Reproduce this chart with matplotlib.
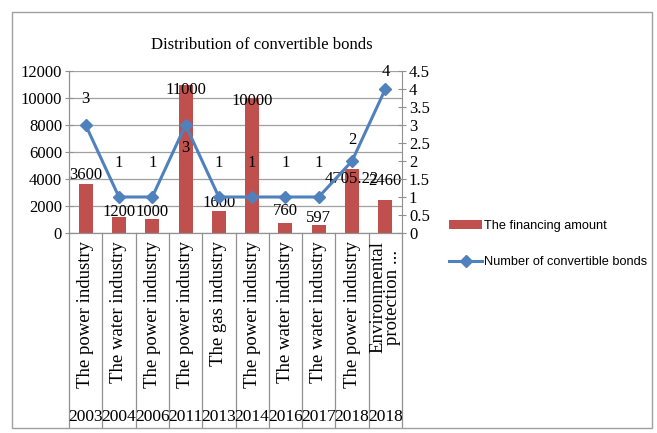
import matplotlib.pyplot as plt
from matplotlib.lines import Line2D
from matplotlib.patches import Patch, Rectangle

years = ["2003", "2004", "2006", "2011", "2013", "2014", "2016", "2017", "2018", "2018"]
industries = ["The power industry", "The water industry", "The power industry",
              "The power industry", "The gas industry", "The power industry",
              "The water industry", "The water industry", "The power industry",
              "Environmental\nprotection ..."]
amount = [3600, 1200, 1000, 11000, 1600, 10000, 760, 597, 4705.22, 2460]
amount_labels = ["3600", "1200", "1000", "11000", "1600", "10000", "760", "597", "4705.22", "2460"]
bonds = [3, 1, 1, 3, 1, 1, 1, 1, 2, 4]

# label offsets in pixels (placement as in the source chart)
amount_off = [9, 5, 7, -5, 8, -3, 12, 7, -10, 19]
bonds_off = [26, 34, 34, -23, 34, 34, 34, 34, 21, 17]

serif = ["Liberation Serif", "DejaVu Serif"]
sans = ["Liberation Sans", "DejaVu Sans"]
bar_color = "#C0504D"
line_color = "#4F81BD"

fig = plt.figure(figsize=(6.57, 4.33), dpi=100)
W, H = 657, 433
ax = fig.add_axes([69 / W, 1 - 233 / H, (402 - 69) / W, (233 - 71) / H])
ax2 = ax.twinx()

x = list(range(len(years)))
ax.bar(x, amount, width=0.42, color=bar_color, zorder=2)
ax.set_xlim(-0.5, len(years) - 0.5)
ax.set_ylim(0, 12000)
ax.set_yticks(range(0, 12001, 2000))
ax.yaxis.grid(True, color="#A0A0A0", linewidth=0.9, zorder=0)
ax.set_axisbelow(True)
ax.set_xticks([])

ax2.plot(x, bonds, color=line_color, linewidth=2.2, marker="D", markersize=6.5, zorder=3)
ax2.set_ylim(0, 4.5)
ax2.set_yticks([i * 0.5 for i in range(10)])
ax2.set_yticklabels(["0", "0.5", "1", "1.5", "2", "2.5", "3", "3.5", "4", "4.5"])

for a in (ax, ax2):
    a.spines["top"].set_visible(False)
    for s in ("left", "right", "bottom"):
        a.spines[s].set_color("#909090")
    a.tick_params(axis="y", direction="inout", length=6, color="#909090", pad=2)
    for lab in a.get_yticklabels():
        lab.set_family(serif)
        lab.set_fontsize(12)
ax.spines["right"].set_visible(False)

for i in x:
    ax.annotate(amount_labels[i], (i, amount[i]), xytext=(0, amount_off[i]),
                textcoords="offset pixels", ha="center", va="center",
                family=serif, fontsize=12, zorder=5, annotation_clip=False)
    ax2.annotate(str(bonds[i]), (i, bonds[i]), xytext=(0, bonds_off[i]),
                 textcoords="offset pixels", ha="center", va="center",
                 family=serif, fontsize=12, zorder=5, annotation_clip=False)

# multi-level category axis
tr = ax.get_xaxis_transform()
bottom_frac = -(428 - 233) / (233 - 71)
for i in range(len(years) + 1):
    ax.plot([i - 0.5, i - 0.5], [0, bottom_frac], transform=tr, color="#909090",
            linewidth=0.9, clip_on=False)
for i in x:
    ax.text(i, -0.05, industries[i], transform=tr, rotation=90, ha="center", va="top",
            family=serif, fontsize=13.5, linespacing=0.85)
    ax.text(i, -(417 - 233) / (233 - 71), years[i], transform=tr, ha="center", va="center",
            family=serif, fontsize=12.5)

fig.text(262 / W, 1 - 45 / H, "Distribution of convertible bonds", ha="center", va="center",
         family=serif, fontsize=12)

handles = [Patch(facecolor=bar_color, edgecolor="none"),
           Line2D([], [], color=line_color, linewidth=2.2, marker="D", markersize=6.5)]
fig.legend(handles, ["The financing amount", "Number of convertible bonds"],
           loc="upper left", bbox_to_anchor=(444 / W, 1 - 215 / H), frameon=False,
           prop={"family": sans, "size": 9.2}, handlelength=2.6, handletextpad=0.15,
           labelspacing=1.9, borderaxespad=0)

fig.patches.append(Rectangle((12 / W, 1 - 428 / H), (652 - 12) / W, (428 - 12) / H,
                             transform=fig.transFigure, fill=False, edgecolor="#A0A0A0",
                             linewidth=1))

fig.savefig("out.png", dpi=100)
